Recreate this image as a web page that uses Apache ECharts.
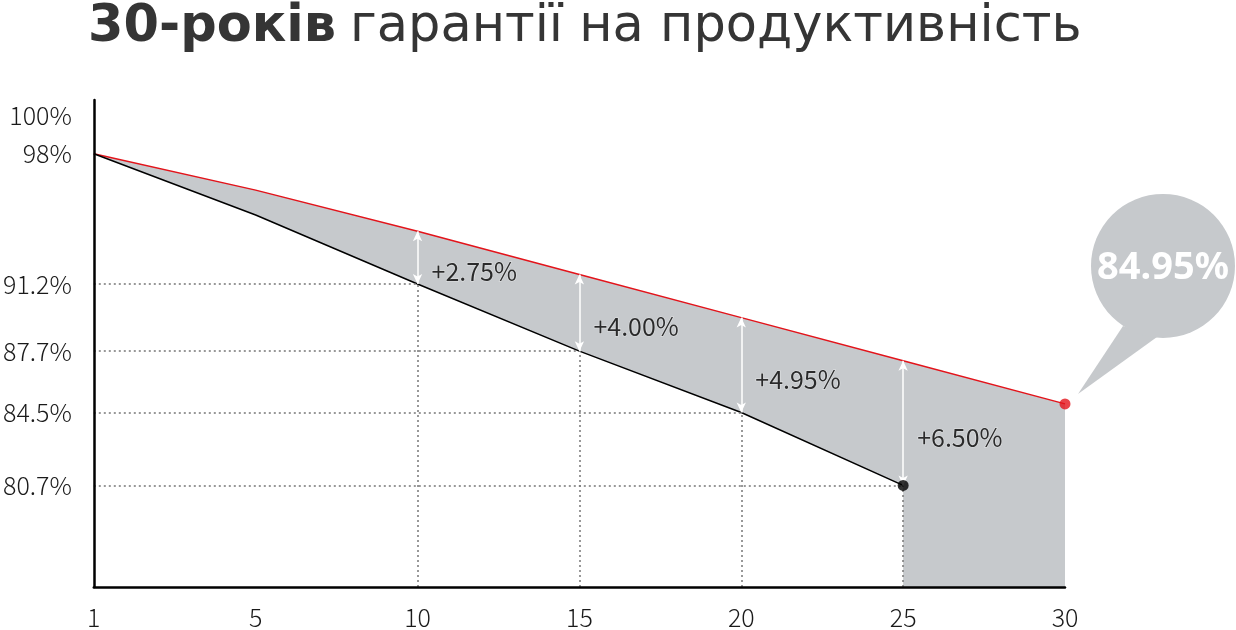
<!DOCTYPE html>
<html><head><meta charset="utf-8">
<script src="https://cdn.jsdelivr.net/npm/echarts@6/dist/echarts.min.js"></script>
<style>html,body{margin:0;padding:0;background:#fff}#c{width:1236px;height:630px}</style>
</head><body><div id="c"></div>
<script>
const years = ['1', '5', '10', '15', '20', '25', '30'];
const guaranteed = [98, 96.1, 93.95, 91.7, 89.45, 87.2, 84.95];
const standard = [98, 94.8, 91.2, 87.7, 84.5, 80.7, null];
const gainYears = ['10', '15', '20', '25'];
const gains = [2.75, 4.00, 4.95, 6.50];
const yTicks = [100, 98, 91.2, 87.7, 84.5, 80.7];
const titleBold = '30-років';
const titleRest = 'гарантії на продуктивність';
const finalValue = '84.95%';

const YMIN = 75.4, YMAX = 100.8;
const GRAY = '#c6c9cc';
const RED = '#e3141b';

const chart = echarts.init(document.getElementById('c'), null, {renderer: 'canvas'});

const dotted = [];
const arrows = [];
const labelPts = [];
gainYears.forEach((y, i) => {
  const k = years.indexOf(y);
  const s = standard[k], g = guaranteed[k];
  dotted.push([{coord: [0, s]}, {coord: [k, s]}]);
  dotted.push([{coord: [k, YMIN]}, {coord: [k, s]}]);
  arrows.push([{coord: [k, s]}, {coord: [k, g]}]);
  labelPts.push({value: [k, (s + g) / 2], gain: gains[i]});
});
const lastStd = standard.filter(v => v != null).length - 1;
const lastG = guaranteed.length - 1;

const axisFont = {fontFamily: '"Noto Sans CJK JP", "Noto Sans"', fontWeight: 300, fontSize: 25, color: '#1a1a1a'};

chart.setOption({
  animation: false,
  title: {
    left: 83, top: -3,
    text: '{b|' + titleBold + '}{s| }{r|' + titleRest + '}',
    textStyle: {
      rich: {
        b: {fontFamily: 'DejaVu Sans', fontWeight: 700, fontSize: 51, color: '#353535'},
        s: {fontFamily: 'DejaVu Sans', fontSize: 40},
        r: {fontFamily: 'DejaVu Sans', fontWeight: 400, fontSize: 51, color: '#353535'}
      }
    }
  },
  grid: {left: 91, right: 171, top: 100, bottom: 42, containLabel: false},
  xAxis: {
    type: 'category', data: years, boundaryGap: false, z: 10,
    axisLine: {show: true, lineStyle: {color: '#000', width: 2.5}},
    axisTick: {show: false},
    axisLabel: Object.assign({margin: 18}, axisFont),
    splitLine: {show: false}
  },
  yAxis: {
    type: 'value', min: YMIN, max: YMAX, z: 10,
    axisLine: {show: true, lineStyle: {color: '#000', width: 2.5}},
    axisTick: {show: false},
    splitLine: {show: false},
    axisLabel: Object.assign({
      margin: 22,
      customValues: yTicks,
      formatter: v => (Math.round(v * 10) / 10) + '%'
    }, axisFont)
  },
  series: [
    {
      name: 'guaranteed', type: 'line', data: guaranteed,
      symbol: 'none', lineStyle: {color: RED, width: 1.5},
      areaStyle: {color: GRAY, opacity: 1, origin: 'start'}, z: 2
    },
    {
      name: 'standard', type: 'line', data: standard,
      symbol: 'none', lineStyle: {color: '#000', width: 1.5},
      areaStyle: {color: '#fff', opacity: 1, origin: 'start'}, z: 3,
      markLine: {
        silent: true, symbol: 'none', animation: false,
        lineStyle: {color: '#777', type: [2, 3], width: 1.5},
        label: {show: false},
        data: dotted
      }
    },
    {
      name: 'gains', type: 'scatter', symbolSize: 0, z: 5,
      data: labelPts,
      label: {
        show: true, position: 'right', distance: 14, offset: [0, 14],
        formatter: p => '+' + p.data.gain.toFixed(2) + '%',
        fontFamily: '"Noto Sans CJK JP", "Noto Sans"', fontSize: 25, color: '#000',
        textBorderColor: 'rgba(255,255,255,0.6)', textBorderWidth: 1.2
      },
      markLine: {
        silent: true, symbol: ['arrow', 'arrow'], symbolSize: [7, 10], animation: false,
        lineStyle: {color: '#fff', type: 'solid', width: 1.5},
        label: {show: false},
        data: arrows
      }
    },
    {
      name: 'ends', type: 'scatter', z: 6, symbolSize: 11,
      data: [
        {value: [lastStd, standard[lastStd]], itemStyle: {color: '#000'}},
        {value: [lastG, guaranteed[lastG]], itemStyle: {color: RED}}
      ]
    }
  ]
});

const p = chart.convertToPixel({xAxisIndex: 0, yAxisIndex: 0}, [lastG, guaranteed[lastG]]);
const cx = p[0] + 98, cy = p[1] - 138;
chart.setOption({
  graphic: [
    {type: 'polygon', z: 20, shape: {points: [[p[0] + 13, p[1] - 10], [cx - 40, cy + 60], [cx - 6, cy + 71]]}, style: {fill: GRAY}},
    {type: 'circle', z: 20, shape: {cx: cx, cy: cy, r: 72}, style: {fill: GRAY}},
    {type: 'text', z: 21, x: cx, y: cy + 2, style: {text: finalValue, fill: '#fff', font: 'bold 38px "Noto Sans"', align: 'center', verticalAlign: 'middle'}}
  ]
});
</script>
</body></html>
